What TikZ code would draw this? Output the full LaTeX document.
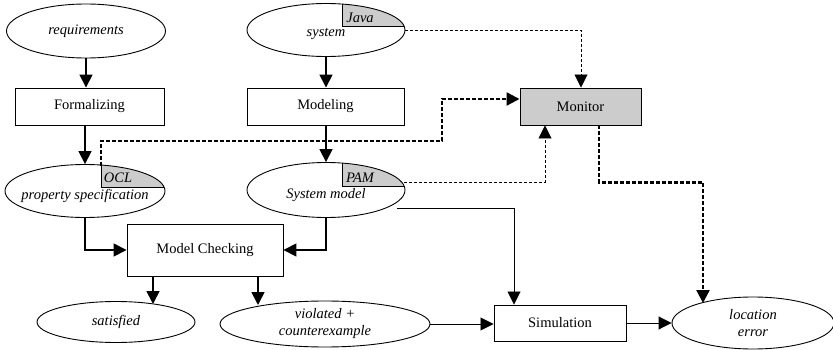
\documentclass[tikz,border=0pt]{standalone}
\usepackage{fontspec}
\setmainfont{Liberation Serif}
\usetikzlibrary{arrows.meta,shapes.geometric,calc}
\definecolor{tagfill}{HTML}{CCCCCC}

% Shaded language tag in the upper right quarter of an ellipse:
% #1,#2 centre, #3,#4 radii, #5 left edge of the tag
\newcommand\EllTag[5]{%
  \begin{scope}
    \clip (#1,#2) ellipse [x radius=#3pt, y radius=#4pt];
    \fill[tagfill] (#5,#2-4) rectangle (#1+#3,#2-#4);
    \draw[line width=0.9pt] (#5,#2-#4) -- (#5,#2-4) -- (#1+#3,#2-4);
  \end{scope}}

\begin{document}
\begin{tikzpicture}[x=1pt,y=-1pt,
  font=\fontsize{14.5}{17}\selectfont,
  box/.style={draw, line width=0.95pt, rectangle, inner sep=0pt, minimum height=37pt},
  ell/.style={draw, line width=0.9pt, ellipse, inner sep=0pt, align=center,
              font=\fontsize{14.5}{17}\selectfont\itshape},
  elltext/.style={inner sep=0pt, font=\fontsize{14.5}{17}\selectfont\itshape},
  tip/.style={-{Triangle[length=13pt,width=13pt]}},
  flow/.style={tip, line width=1.7pt},
  thinflow/.style={tip, line width=0.9pt},
  dotflow/.style={tip, line width=2.3pt, dash pattern=on 4pt off 2pt},
  dashflow/.style={tip, line width=0.9pt, dash pattern=on 3pt off 2pt},
]
\useasboundingbox (0,0) rectangle (833,350);

% language tags
\EllTag{326}{30}{79}{26.5}{342}
\EllTag{85}{191}{80}{26.5}{101}
\EllTag{326}{190}{79}{27.5}{342}
\node[elltext] (javatag) at (360,18) {Java};
\node[elltext] (ocltag) at (118,178) {OCL};
\node[elltext] (pamtag) at (360,178) {PAM};

% artefacts
\node[ell, minimum width=159pt, minimum height=54pt] (req) at (86,31) {requirements};
\node[ell, minimum width=158pt, minimum height=53pt] (sys) at (326,30) {};
\node[elltext] (systext) at (326,34) {system};
\node[ell, minimum width=160pt, minimum height=53pt] (ps) at (85,191) {};
\node[elltext] (pstext) at (85,196) {property specification};
\node[ell, minimum width=158pt, minimum height=55pt] (sm) at (326,190) {};
\node[elltext] (smtext) at (326,195) {System model};
\node[ell, minimum width=158pt, minimum height=41pt] (sat) at (116,322) {satisfied};
\node[ell, minimum width=210pt, minimum height=46pt] (vio) at (325,324) {violated +\\counterexample};
\node[ell, minimum width=162pt, minimum height=52pt] (loc) at (753,323) {location\\error};

% activities
\node[box, minimum width=149pt] (form) at (89.5,106.5) {Formalizing};
\node[box, minimum width=157pt] (model) at (325.5,106.5) {Modeling};
\node[box, minimum width=121pt, fill=tagfill] (mon) at (580.5,106.5) {Monitor};
\node[box, minimum width=156pt, minimum height=52pt] (mc) at (205,250) {Model Checking};
\node[box, minimum width=132pt, minimum height=36pt] (sim) at (560,323) {Simulation};

% connector end points on ellipse borders
\coordinate (oclout) at (101,166);
\coordinate (pamout) at (404,182);
\coordinate (smout) at (397,208);
\coordinate (satin) at (153,304);
\coordinate (vioin) at (258,305);
\coordinate (locin) at (703,303);

% main flow
\draw[flow] (req.south) -- (req.south |- form.north);
\draw[flow] (form.south -| ps.north) -- (ps.north);
\draw[flow] (sys.south) -- (sys.south |- model.north);
\draw[flow] (sys.south |- model.south) -- (sm.north);
\draw[flow] (ps.south) |- (mc.west);
\draw[flow] (sm.south) |- (mc.east);
\draw[flow] (mc.south -| satin) -- (satin);
\draw[flow] (mc.south -| vioin) -- (vioin);
\draw[thinflow] (smout) -| ([xshift=-46pt]sim.north);
\draw[thinflow] (vio.east) -- (vio.east -| sim.west);
\draw[thinflow] (sim.east) -- (sim.east -| loc.west);

% monitoring
\draw[dashflow] (sys.east) -| ([xshift=0.5pt]mon.north);
\draw[dotflow] (oclout) |- (442,141) |- ([yshift=7.5pt]mon.west);
\draw[dashflow] (pamout) -| ([xshift=-35.5pt]mon.south);
\draw[dotflow] ([xshift=18.5pt]mon.south) -- ++(0,57) -| (locin);
\end{tikzpicture}
\end{document}
